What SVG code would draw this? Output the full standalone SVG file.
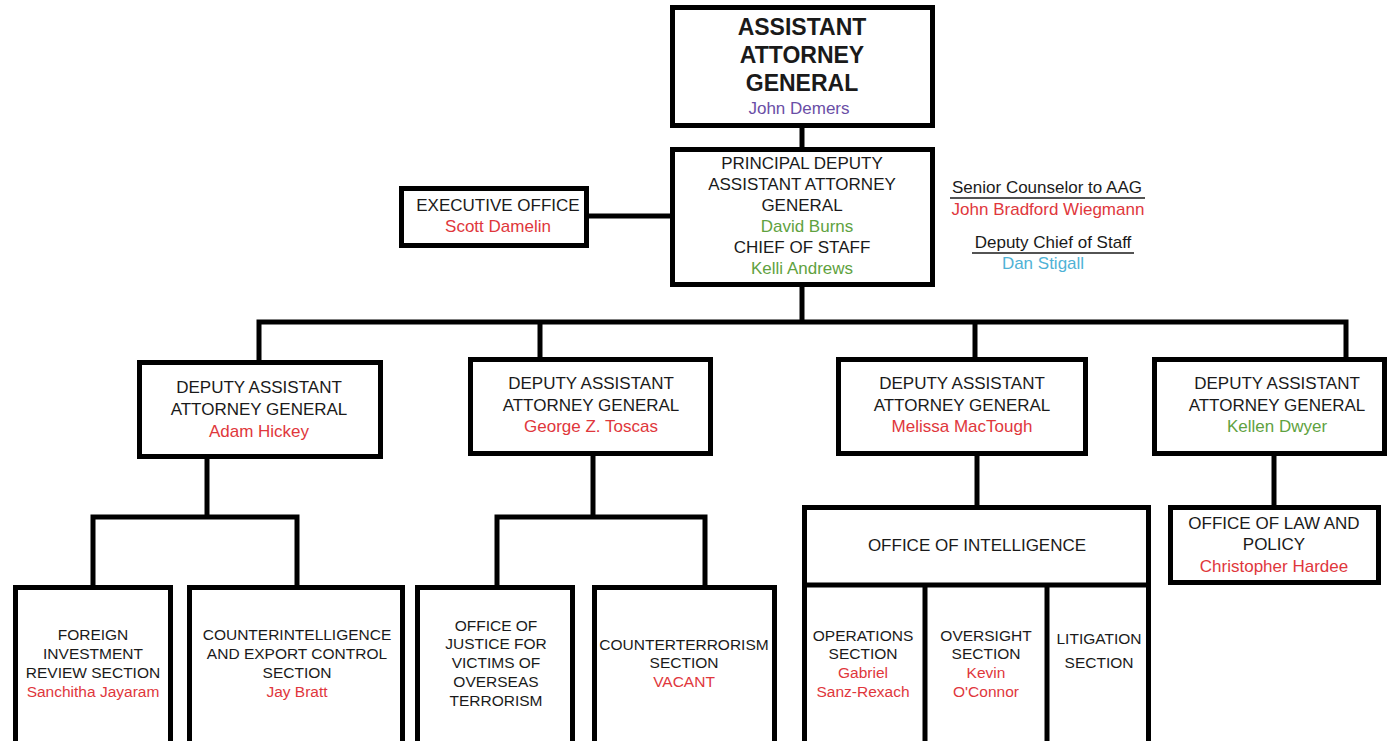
<svg xmlns="http://www.w3.org/2000/svg" width="1389" height="741" viewBox="0 0 1389 741">
  <style>
    .box { fill: #ffffff; stroke: #000000; stroke-width: 5; }
    .wire { fill: none; stroke: #000000; stroke-width: 5; stroke-linejoin: miter; }
    text { font-family: "Liberation Sans", Arial, sans-serif; text-anchor: middle; fill: #1a1a1a; }
    .head { font-size: 23px; font-weight: bold; }
    .t17 { font-size: 17px; }
    .t15 { font-size: 15.5px; }
    .red { fill: #e0373c; }
    .green { fill: #5fa23f; }
    .purple { fill: #6a4ea6; }
    .blue { fill: #4fb2d6; }
    .rule { stroke: #1a1a1a; stroke-width: 1.5; }
  </style>
  <rect width="1389" height="741" fill="#ffffff"/>

  <!-- connectors -->
  <g id="connectors">
    <path class="wire" d="M802 128 V147"/>
    <path class="wire" d="M589 216 H670"/>
    <path class="wire" d="M802 287 V322"/>
    <path class="wire" d="M259 360 V322 H1346 V357"/>
    <path class="wire" d="M540 322 V357"/>
    <path class="wire" d="M975 322 V357"/>
    <path class="wire" d="M207 458 V517"/>
    <path class="wire" d="M93 585 V517 H297 V585"/>
    <path class="wire" d="M593 455 V517"/>
    <path class="wire" d="M497 585 V517 H705 V585"/>
    <path class="wire" d="M977 455 V506"/>
    <path class="wire" d="M1274 455 V506"/>
  </g>

  <!-- top level -->
  <g id="aag">
    <rect class="box" x="672.5" y="7.5" width="260" height="118"/>
    <text class="head" x="802" y="35">ASSISTANT</text>
    <text class="head" x="802" y="63">ATTORNEY</text>
    <text class="head" x="802" y="91">GENERAL</text>
    <text class="t17 purple" x="799" y="114">John Demers</text>
  </g>

  <g id="pdaag">
    <rect class="box" x="672.5" y="149.5" width="260" height="135"/>
    <text class="t17" x="802" y="169">PRINCIPAL DEPUTY</text>
    <text class="t17" x="802" y="190">ASSISTANT ATTORNEY</text>
    <text class="t17" x="802" y="211">GENERAL</text>
    <text class="t17 green" x="807" y="232">David Burns</text>
    <text class="t17" x="802" y="253">CHIEF OF STAFF</text>
    <text class="t17 green" x="802" y="274">Kelli Andrews</text>
  </g>

  <g id="executive-office">
    <rect class="box" x="401.5" y="188.5" width="185" height="57"/>
    <text class="t17" x="498" y="211">EXECUTIVE OFFICE</text>
    <text class="t17 red" x="498" y="232">Scott Damelin</text>
  </g>

  <g id="staff-notes">
    <text class="t17" x="1047" y="193">Senior Counselor to AAG</text>
    <line class="rule" x1="950" y1="198" x2="1145" y2="198"/>
    <text class="t17 red" x="1048" y="215">John Bradford Wiegmann</text>
    <text class="t17" x="1053" y="248">Deputy Chief of Staff</text>
    <line class="rule" x1="972" y1="253" x2="1134" y2="253"/>
    <text class="t17 blue" x="1043" y="269">Dan Stigall</text>
  </g>

  <!-- deputy assistant attorneys general -->
  <g id="daag-hickey">
    <rect class="box" x="139.5" y="362.5" width="241" height="94"/>
    <text class="t17" x="259" y="393">DEPUTY ASSISTANT</text>
    <text class="t17" x="259" y="415">ATTORNEY GENERAL</text>
    <text class="t17 red" x="259" y="437">Adam Hickey</text>
  </g>

  <g id="daag-toscas">
    <rect class="box" x="470.5" y="359.5" width="240" height="94"/>
    <text class="t17" x="591" y="389">DEPUTY ASSISTANT</text>
    <text class="t17" x="591" y="411">ATTORNEY GENERAL</text>
    <text class="t17 red" x="591" y="432">George Z. Toscas</text>
  </g>

  <g id="daag-mactough">
    <rect class="box" x="838.5" y="359.5" width="247" height="94"/>
    <text class="t17" x="962" y="389">DEPUTY ASSISTANT</text>
    <text class="t17" x="962" y="411">ATTORNEY GENERAL</text>
    <text class="t17 red" x="962" y="432">Melissa MacTough</text>
  </g>

  <g id="daag-dwyer">
    <rect class="box" x="1154.5" y="359.5" width="230" height="94"/>
    <text class="t17" x="1277" y="389">DEPUTY ASSISTANT</text>
    <text class="t17" x="1277" y="411">ATTORNEY GENERAL</text>
    <text class="t17 green" x="1277" y="432">Kellen Dwyer</text>
  </g>

  <!-- sections -->
  <g id="foreign-investment">
    <rect class="box" x="15.5" y="587.5" width="155" height="180"/>
    <text class="t15" x="93" y="640">FOREIGN</text>
    <text class="t15" x="93" y="659">INVESTMENT</text>
    <text class="t15" x="93" y="678">REVIEW SECTION</text>
    <text class="t15 red" x="93" y="697">Sanchitha Jayaram</text>
  </g>

  <g id="counterintelligence">
    <rect class="box" x="189.5" y="587.5" width="213" height="180"/>
    <text class="t15" x="297" y="640">COUNTERINTELLIGENCE</text>
    <text class="t15" x="297" y="659">AND EXPORT CONTROL</text>
    <text class="t15" x="297" y="678">SECTION</text>
    <text class="t15 red" x="297" y="697">Jay Bratt</text>
  </g>

  <g id="victims-of-terrorism">
    <rect class="box" x="417.5" y="587.5" width="155" height="180"/>
    <text class="t15" x="496" y="631">OFFICE OF</text>
    <text class="t15" x="496" y="649">JUSTICE FOR</text>
    <text class="t15" x="496" y="668">VICTIMS OF</text>
    <text class="t15" x="496" y="687">OVERSEAS</text>
    <text class="t15" x="496" y="706">TERRORISM</text>
  </g>

  <g id="counterterrorism">
    <rect class="box" x="594.5" y="587.5" width="180" height="180"/>
    <text class="t15" x="684" y="650">COUNTERTERRORISM</text>
    <text class="t15" x="684" y="668">SECTION</text>
    <text class="t15 red" x="684" y="687">VACANT</text>
  </g>

  <g id="office-of-intelligence">
    <rect class="box" x="804.5" y="507.5" width="344" height="260"/>
    <line class="wire" x1="804" y1="585" x2="1149" y2="585"/>
    <line class="wire" x1="925" y1="585" x2="925" y2="760"/>
    <line class="wire" x1="1047" y1="585" x2="1047" y2="760"/>
    <text class="t17" x="977" y="551">OFFICE OF INTELLIGENCE</text>
  </g>

  <g id="operations-section">
    <text class="t15" x="863" y="641">OPERATIONS</text>
    <text class="t15" x="863" y="659">SECTION</text>
    <text class="t15 red" x="863" y="678">Gabriel</text>
    <text class="t15 red" x="863" y="697">Sanz-Rexach</text>
  </g>

  <g id="oversight-section">
    <text class="t15" x="986" y="641">OVERSIGHT</text>
    <text class="t15" x="986" y="659">SECTION</text>
    <text class="t15 red" x="986" y="678">Kevin</text>
    <text class="t15 red" x="986" y="697">O'Connor</text>
  </g>

  <g id="litigation-section">
    <text class="t15" x="1099" y="644">LITIGATION</text>
    <text class="t15" x="1099" y="668">SECTION</text>
  </g>

  <g id="law-and-policy">
    <rect class="box" x="1170.5" y="507.5" width="208" height="75"/>
    <text class="t17" x="1274" y="529">OFFICE OF LAW AND</text>
    <text class="t17" x="1274" y="550">POLICY</text>
    <text class="t17 red" x="1274" y="572">Christopher Hardee</text>
  </g>
</svg>
